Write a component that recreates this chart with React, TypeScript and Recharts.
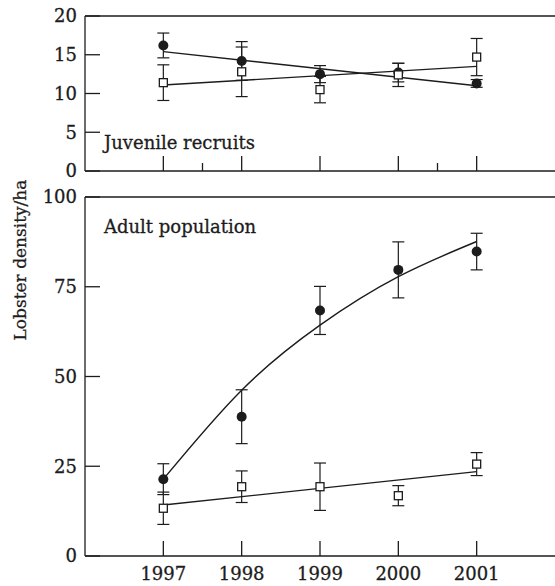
import React from 'react';
import { ComposedChart, Scatter, Line, XAxis, YAxis, ErrorBar, ReferenceLine } from 'recharts';

const years = [1997, 1998, 1999, 2000, 2001];
const fitYears = [1997, 2001];

// Juvenile recruits (top panel)
const juvFilled = [16.2, 14.2, 12.5, 12.7, 11.3];
const juvFilledErr = [1.6, 2.5, 1.1, 1.2, 0.5];
const juvOpen = [11.4, 12.8, 10.5, 12.4, 14.7];
const juvOpenErr = [2.3, 3.2, 1.7, 1.5, 2.4];
const juvFilledFit = [15.4, 11.0];
const juvOpenFit = [11.1, 13.5];

// Adult population (bottom panel)
const adultFilled = [21.4, 38.8, 68.4, 79.7, 84.8];
const adultFilledErr = [4.3, 7.5, 6.7, 7.8, 5.1];
const adultOpen = [13.3, 19.3, 19.3, 16.8, 25.6];
const adultOpenErr = [4.5, 4.4, 6.6, 2.8, 3.2];
const adultFilledFit = [21.4, 46.2, 64.3, 77.8, 87.6];
const adultOpenFit = [14.2, 23.5];

const topYTicks = [0, 5, 10, 15, 20];
const bottomYTicks = [0, 25, 50, 75, 100];
const topXTicks = [1997, 1997.5, 1998, 1999, 2000, 2000.5, 2001];

const INK = '#1c1c1c';
const FONT = '"DejaVu Serif", serif';
const MARGIN = 8;

// a touch of stroke so the serif text reads as dark as the print
const textStyle = { fontFamily: FONT, fill: INK, stroke: INK, strokeWidth: 0.3 };

const pts = (xs: number[], ys: number[], es?: number[]) =>
  xs.map((x, i) => ({ x, y: ys[i], e: es ? es[i] : 0 }));

const Dot = (p: any) => <circle cx={p.cx} cy={p.cy} r={5} fill={INK} />;
const Box = (p: any) => (
  <rect x={p.cx - 4} y={p.cy - 4} width={8} height={8} fill="#fff" stroke={INK} strokeWidth={1.3} />
);

// ticks point inward, labels stay outside
const YTick = ({ x, y, payload }: any) => (
  <g>
    <line x1={x + MARGIN} x2={x + MARGIN + 15} y1={y} y2={y} stroke={INK} strokeWidth={1.3} />
    <text x={x} y={y} dy="0.36em" textAnchor="end" fontSize={18} style={textStyle}>
      {payload.value}
    </text>
  </g>
);

const XTickTop = ({ x, y, payload }: any) => {
  const y0 = y - MARGIN;
  const len = Number.isInteger(payload.value) ? 15 : 8;
  return <line x1={x} x2={x} y1={y0} y2={y0 - len} stroke={INK} strokeWidth={1.3} />;
};

const XTickBottom = ({ x, y, payload }: any) => {
  const y0 = y - MARGIN;
  return (
    <g>
      <line x1={x} x2={x} y1={y0} y2={y0 - 15} stroke={INK} strokeWidth={1.3} />
      <text x={x} y={y0 + 24} textAnchor="middle" fontSize={18} style={textStyle}>
        {payload.value}
      </text>
    </g>
  );
};

const axisLine = { stroke: INK, strokeWidth: 1.3 };

export default function App() {
  return (
    <div style={{ position: 'absolute', left: 0, top: 0, width: 555, height: 586, background: '#fff' }}>
      <div style={{ position: 'absolute', left: 0, top: 0 }}>
        <ComposedChart width={555} height={186} margin={{ top: 16, right: 0, bottom: 0, left: 0 }}>
          <XAxis
            type="number"
            dataKey="x"
            domain={[1996, 2002]}
            ticks={topXTicks}
            interval={0}
            height={15}
            tickSize={0}
            tickMargin={MARGIN}
            tick={<XTickTop />}
            axisLine={axisLine}
            allowDataOverflow
          />
          <YAxis
            type="number"
            dataKey="y"
            domain={[0, 20]}
            ticks={topYTicks}
            interval={0}
            width={85}
            tickSize={0}
            tickMargin={MARGIN}
            tick={<YTick />}
            axisLine={axisLine}
            allowDataOverflow
          />
          <ReferenceLine y={20} stroke={INK} strokeWidth={1.3} />
          <Line data={pts(fitYears, juvFilledFit)} dataKey="y" type="linear" stroke={INK} strokeWidth={1.4} dot={false} isAnimationActive={false} />
          <Line data={pts(fitYears, juvOpenFit)} dataKey="y" type="linear" stroke={INK} strokeWidth={1.4} dot={false} isAnimationActive={false} />
          <Scatter data={pts(years, juvFilled, juvFilledErr)} shape={Dot} isAnimationActive={false}>
            <ErrorBar dataKey="e" direction="y" width={6} stroke={INK} strokeWidth={1.2} />
          </Scatter>
          <Scatter data={pts(years, juvOpen, juvOpenErr)} shape={Box} isAnimationActive={false}>
            <ErrorBar dataKey="e" direction="y" width={6} stroke={INK} strokeWidth={1.2} />
          </Scatter>
        </ComposedChart>
      </div>
      <div style={{ position: 'absolute', left: 0, top: 186 }}>
        <ComposedChart width={555} height={400} margin={{ top: 11, right: 0, bottom: 0, left: 0 }}>
          <XAxis
            type="number"
            dataKey="x"
            domain={[1996, 2002]}
            ticks={years}
            interval={0}
            height={30}
            tickSize={0}
            tickMargin={MARGIN}
            tick={<XTickBottom />}
            axisLine={axisLine}
            allowDataOverflow
          />
          <YAxis
            type="number"
            dataKey="y"
            domain={[0, 100]}
            ticks={bottomYTicks}
            interval={0}
            width={85}
            tickSize={0}
            tickMargin={MARGIN}
            tick={<YTick />}
            axisLine={axisLine}
            allowDataOverflow
          />
          <ReferenceLine y={100} stroke={INK} strokeWidth={1.3} />
          <Line data={pts(years, adultFilledFit)} dataKey="y" type="natural" stroke={INK} strokeWidth={1.4} dot={false} isAnimationActive={false} />
          <Line data={pts(fitYears, adultOpenFit)} dataKey="y" type="linear" stroke={INK} strokeWidth={1.4} dot={false} isAnimationActive={false} />
          <Scatter data={pts(years, adultFilled, adultFilledErr)} shape={Dot} isAnimationActive={false}>
            <ErrorBar dataKey="e" direction="y" width={6} stroke={INK} strokeWidth={1.2} />
          </Scatter>
          <Scatter data={pts(years, adultOpen, adultOpenErr)} shape={Box} isAnimationActive={false}>
            <ErrorBar dataKey="e" direction="y" width={6} stroke={INK} strokeWidth={1.2} />
          </Scatter>
        </ComposedChart>
      </div>
      <svg width={555} height={586} style={{ position: 'absolute', left: 0, top: 0, pointerEvents: 'none' }}>
        <text x={104} y={149} fontSize={18} style={textStyle}>Juvenile recruits</text>
        <text x={104} y={233} fontSize={18} style={textStyle}>Adult population</text>
        <text
          x={20}
          y={260}
          dy="0.35em"
          transform="rotate(-90, 20, 260)"
          textAnchor="middle"
          fontSize={17}
          style={textStyle}
        >
          Lobster density/ha
        </text>
      </svg>
    </div>
  );
}
